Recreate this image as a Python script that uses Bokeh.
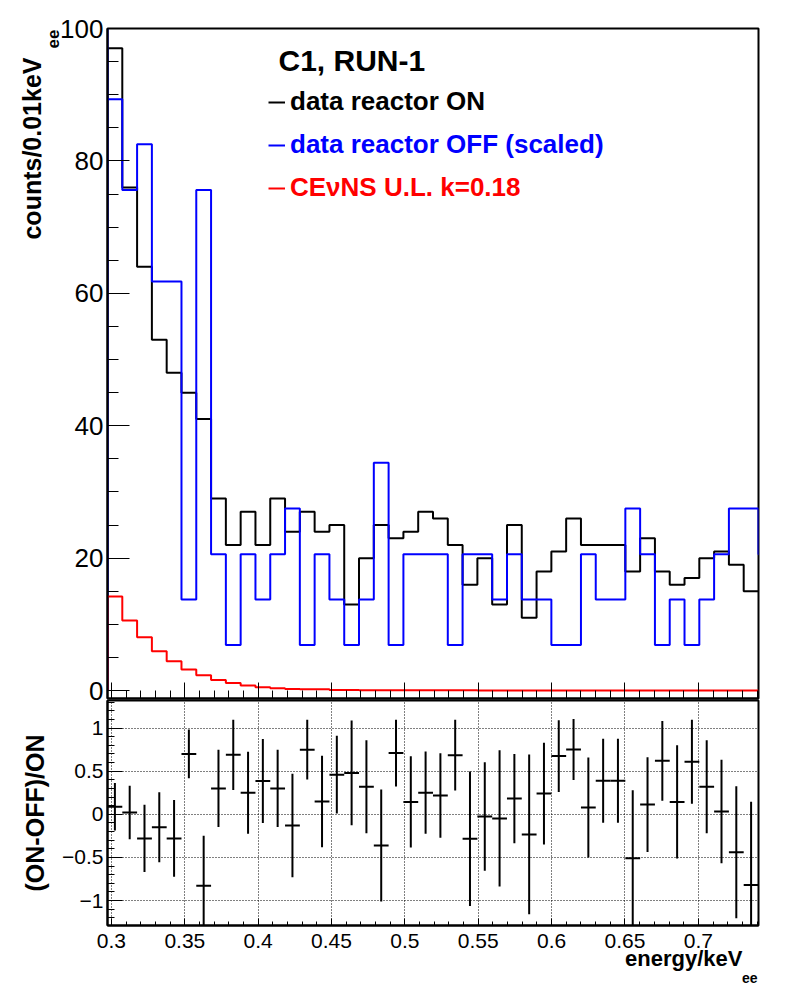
import numpy as np
from bokeh.plotting import figure
from bokeh.models import (Range1d, SingleIntervalTicker, Label, Legend, LegendItem,
                          CustomJSTickFormatter, Title)
from bokeh.layouts import column
from bokeh.embed import file_html
from bokeh.resources import INLINE

FONT = "Liberation Sans"

# ---------------- data ----------------
bin_start = 0.2973
bin_width = 0.010084
x_max = 0.7410

on_counts = [97, 76, 64, 53, 48, 45, 41, 29, 22, 27, 22, 29, 24, 27, 24, 25, 13, 20, 25, 23,
             24, 27, 26, 22, 16, 20, 13, 25, 11, 18, 21, 26, 22, 22, 22, 18, 23, 18, 16, 17,
             20, 21, 19, 15]

off_scaled = [89.3, 75.6, 82.5, 61.8, 61.8, 13.75, 75.6, 20.6, 6.87, 20.6, 13.75, 20.6, 27.5,
              6.87, 20.6, 13.75, 6.87, 13.75, 34.4, 6.87, 20.6, 20.6, 20.6, 6.87, 20.6, 20.6,
              13.75, 20.6, 13.75, 13.75, 6.87, 6.87, 20.6, 13.75, 13.75, 27.5, 20.6, 6.87,
              13.75, 6.87, 13.75, 20.6, 27.5, 27.5]
off_left_overflow = 110.0
off_right_overflow = 20.6

cevns_ul = [14.2, 10.6, 8.06, 5.95, 4.44, 3.17, 2.32, 1.61, 1.16, 0.76, 0.5, 0.35, 0.22, 0.2,
            0.18, 0.08, 0.07, 0.06, 0.05, 0.05, 0.04, 0.04, 0.03, 0.03, 0.03, 0.02, 0.02, 0.02,
            0.02, 0.02, 0.01, 0.01, 0.01, 0.01, 0.01, 0.01, 0.01, 0.01, 0.01, 0.01, 0.01, 0.01,
            0.01, 0.01]

ratio = [0.087, 0.02, -0.28, -0.15, -0.28, 0.70, -0.83, 0.30, 0.69, 0.25, 0.386, 0.30, -0.13,
         0.75, 0.148, 0.46, 0.48, 0.32, -0.363, 0.71, 0.144, 0.25, 0.217, 0.686, -0.283,
         -0.025, -0.048, 0.182, -0.233, 0.24, 0.675, 0.752, 0.079, 0.39, 0.39, -0.51, 0.113,
         0.62, 0.144, 0.61, 0.32, 0.032, -0.44, -0.82]
ratio_err = [0.275, 0.31, 0.39, 0.405, 0.445, 0.283, 0.58, 0.448, 0.408, 0.475, 0.487, 0.448,
             0.60, 0.346, 0.53, 0.45, 0.607, 0.54, 0.65, 0.388, 0.53, 0.477, 0.49, 0.41, 0.78,
             0.63, 0.79, 0.517, 0.926, 0.59, 0.417, 0.354, 0.58, 0.487, 0.487, 0.79, 0.55,
             0.463, 0.656, 0.488, 0.54, 0.60, 0.765, 0.965]

title_text = "C1, RUN-1"
legend_labels = ["data reactor ON", "data reactor OFF (scaled)", "CE\u03bdNS U.L. k=0.18"]
y1_title, y1_sub = "counts/0.01keV", "ee"
y2_title = "(ON-OFF)/ON"
x_title, x_sub = "energy/keV", "ee"

# ---------------- helpers ----------------
n = len(on_counts)
edges = bin_start + bin_width * np.arange(n + 1)
centers = 0.5 * (edges[:-1] + edges[1:])


def outline(vals):
    xs, ys = [], []
    for i, v in enumerate(vals):
        xs += [edges[i], edges[i + 1]]
        ys += [v, v]
    return xs, ys


fmt = CustomJSTickFormatter(code="""
    const v = Number(tick.toFixed(3));
    const s = Math.abs(v).toString();
    return v < 0 ? "\\u2212" + s : s;
""")
blank = CustomJSTickFormatter(code="return '';")


def title(text, align, size, offset=0, standoff=0, valign="bottom"):
    return Title(text=text, align=align, offset=offset, standoff=standoff,
                 vertical_align=valign,
                 text_font=FONT, text_font_style="bold", text_font_size=size,
                 text_color="black")


# ---------------- upper pad ----------------
p1 = figure(x_range=Range1d(bin_start, x_max), y_range=Range1d(-1.2, 100),
            frame_width=651, frame_height=670,
            min_border_left=107, min_border_right=30, min_border_top=28, min_border_bottom=8,
            output_backend="svg", toolbar_location=None)
p1.grid.visible = False
p1.outline_line_color = "black"
p1.outline_line_width = 2
p1.background_fill_color = "white"
p1.border_fill_color = "white"

xa = p1.xaxis[0]
xa.ticker = SingleIntervalTicker(interval=0.05, num_minor_ticks=5)
xa.formatter = blank
xa.major_tick_in = 16
xa.major_tick_out = 0
xa.minor_tick_in = 8
xa.minor_tick_out = 0
xa.major_label_standoff = 0
xa.axis_line_width = 2

ya = p1.yaxis[0]
ya.ticker = SingleIntervalTicker(interval=20, num_minor_ticks=4)
ya.major_tick_in = 22
ya.major_tick_out = 0
ya.minor_tick_in = 11
ya.minor_tick_out = 0
ya.major_label_text_font = FONT
ya.major_label_text_font_size = "26px"
ya.major_label_text_color = "black"
ya.major_label_standoff = 4
ya.axis_line_width = 2

xs, ys = outline(on_counts)
r_on = p1.line([edges[0]] + xs, [0.0] + ys, line_color="black", line_width=2)

xs, ys = outline(off_scaled)
r_off = p1.line([edges[0], edges[0]] + xs + [edges[-1], edges[-1] + bin_width],
                [0.0, off_left_overflow] + ys + [off_right_overflow, off_right_overflow],
                line_color="#0000ff", line_width=2)

xs, ys = outline(cevns_ul)
r_cev = p1.line([edges[0]] + xs, [0.0] + ys, line_color="#ff0000", line_width=2)

for lab, rend, col, vy in zip(legend_labels, [r_on, r_off, r_cev],
                              ["black", "#0000ff", "#ff0000"], [581, 538, 495]):
    leg = Legend(items=[LegendItem(label=lab, renderers=[rend])], location=(161, vy),
                 padding=0, margin=0, spacing=0, border_line_alpha=0,
                 background_fill_alpha=0, glyph_width=17, glyph_height=30,
                 label_height=30, label_standoff=5, label_text_font=FONT,
                 label_text_font_style="bold", label_text_font_size="26px",
                 label_text_color=col)
    p1.add_layout(leg)

p1.add_layout(Label(x=171, y=638, x_units="screen", y_units="screen", text=title_text,
                    text_font=FONT, text_font_style="bold", text_font_size="30px",
                    text_align="left", text_baseline="middle", text_color="black"))

p1.add_layout(title(y1_sub, "right", "17px", offset=1, standoff=-2), "left")
p1.add_layout(title(y1_title, "right", "25px", offset=29), "left")

# ---------------- lower pad ----------------
p2 = figure(x_range=p1.x_range, y_range=Range1d(-1.29, 1.32),
            frame_width=651, frame_height=225,
            min_border_left=107, min_border_right=30, min_border_top=2, min_border_bottom=60,
            output_backend="svg", toolbar_location=None)
p2.styles = {"margin-top": "-8px"}
p2.outline_line_color = "black"
p2.outline_line_width = 2
p2.background_fill_color = "white"
p2.border_fill_alpha = 0

xb = p2.xaxis[0]
xb.ticker = SingleIntervalTicker(interval=0.05, num_minor_ticks=5)
xb.formatter = fmt
xb.major_tick_in = 7
xb.major_tick_out = 0
xb.minor_tick_in = 4
xb.minor_tick_out = 0
xb.major_label_text_font = FONT
xb.major_label_text_font_size = "21px"
xb.major_label_text_color = "black"
xb.major_label_standoff = 8
xb.axis_line_width = 2

yb = p2.yaxis[0]
yb.ticker = SingleIntervalTicker(interval=0.5, num_minor_ticks=5)
yb.formatter = fmt
yb.major_tick_in = 15
yb.major_tick_out = 0
yb.minor_tick_in = 7
yb.minor_tick_out = 0
yb.major_label_text_font = FONT
yb.major_label_text_font_size = "21px"
yb.major_label_text_color = "black"
yb.major_label_standoff = 4
yb.axis_line_width = 2

p2.grid.grid_line_color = "black"
p2.grid.grid_line_dash = "1 2"
p2.grid.grid_line_width = 1
p2.grid.grid_line_alpha = 1

rat = np.array(ratio)
err = np.array(ratio_err)
p2.segment(x0=centers, y0=rat - err, x1=centers, y1=rat + err, line_color="black", line_width=2)
p2.segment(x0=edges[:-1], y0=rat, x1=edges[1:], y1=rat, line_color="black", line_width=2)

p2.add_layout(title(y2_title, "center", "25px", standoff=17, valign="top"), "left")
p2.add_layout(title(x_title, "right", "22px", offset=16, standoff=-13), "below")
p2.add_layout(title(x_sub, "right", "14px", offset=1, standoff=12), "below")

layout = column(p1, p2, spacing=0)
open("out.html", "w").write(file_html(layout, INLINE))
